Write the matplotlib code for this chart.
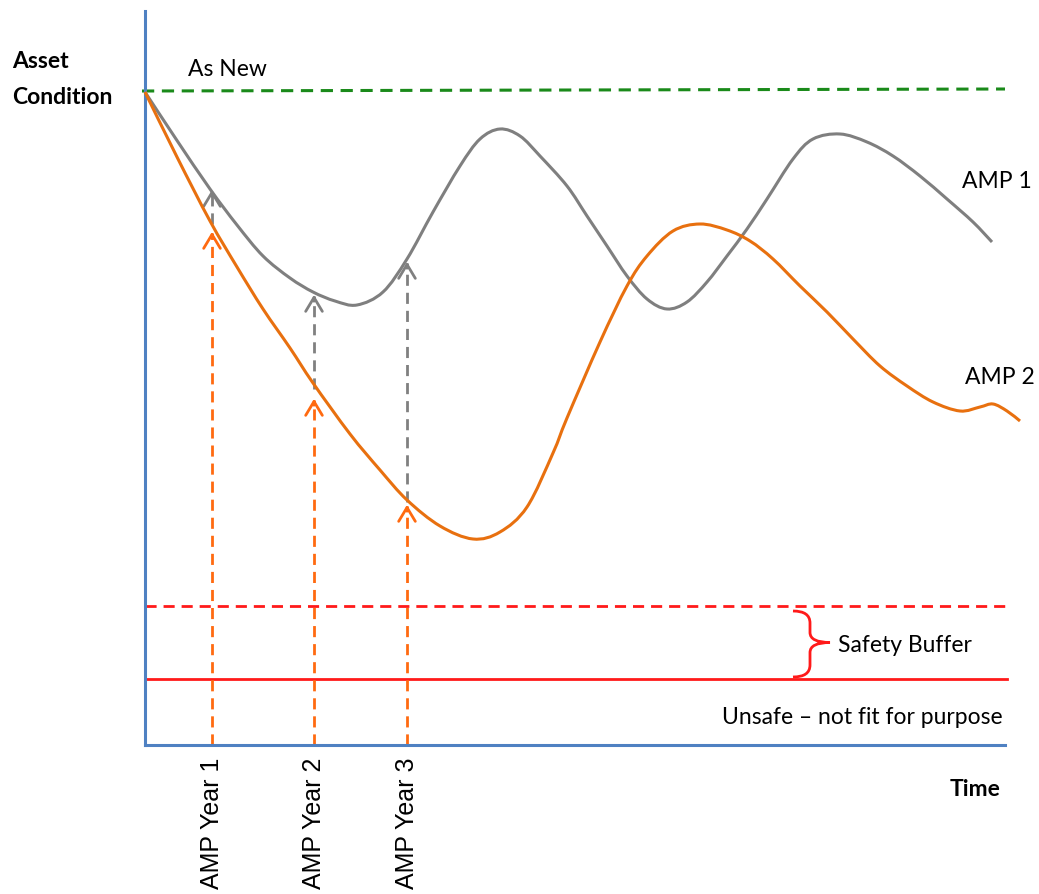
import numpy as np
import matplotlib
matplotlib.use('Agg')
import matplotlib.pyplot as plt
from matplotlib.path import Path
from matplotlib.patches import PathPatch

# data (time, condition) in arbitrary units
amp1_t = [0, 31, 65, 92, 118, 145, 168, 190, 212, 238, 262, 288, 315, 335, 355,
          375, 395, 422, 442, 462, 482, 502, 522, 542, 562, 582, 602, 622, 648, 668,
          695, 722, 748, 775, 802, 828, 847]
amp1_c = [653, 606, 556, 520, 489, 467, 453, 444, 440, 453, 486, 533, 579, 606, 616,
          609, 589, 559, 529, 499, 469, 446, 436, 443, 463, 489, 516, 546, 586, 606,
          611, 603, 589, 569, 546, 523, 503]

amp2_t = [0, 32, 65, 92, 118, 145, 168, 205, 235, 262, 295, 328, 355, 382, 408, 422,
          455, 482, 502, 528, 555, 582, 605, 628, 655, 682, 708, 735, 762, 788,
          815, 835, 848, 862, 875]
amp2_c = [653, 588, 524, 478, 436, 397, 362, 311, 275, 245, 219, 206, 213, 238, 292, 327,
          403, 459, 489, 514, 521, 515, 504, 486, 459, 433, 406, 379, 359, 343,
          334, 338, 341, 334, 324]

as_new = 654
buffer_top = 139
unsafe_level = 66

amp_years = ['AMP Year 1', 'AMP Year 2', 'AMP Year 3']
amp_year_t = [67, 169, 262]
amp2_at_year = [516, 349, 243]
amp1_start = [521, 356, 243]
amp1_at_year = [558, 453, 486]


def smooth_path(xs, ys):
    # draw a smooth curve through the read points (Catmull-Rom as Bezier)
    p = np.column_stack([xs, ys]).astype(float)
    verts = [p[0]]
    codes = [Path.MOVETO]
    n = len(p)
    for i in range(n - 1):
        p0 = p[i - 1] if i > 0 else p[i]
        p3 = p[i + 2] if i + 2 < n else p[i + 1]
        c1 = p[i] + (p[i + 1] - p0) / 6
        c2 = p[i + 1] - (p3 - p[i]) / 6
        verts += [c1, c2, p[i + 1]]
        codes += [Path.CURVE4] * 3
    return Path(verts, codes)


fig = plt.figure(figsize=(10.39, 8.95), dpi=100)
ax = fig.add_axes([145 / 1039, 149 / 895, 880 / 1039, 734 / 895])
ax.set_xlim(0, 880)
ax.set_ylim(0, 734)
ax.set_xticks([])
ax.set_yticks([])
for s in ['top', 'right']:
    ax.spines[s].set_visible(False)
for s in ['left', 'bottom']:
    ax.spines[s].set_color('#4f81c2')
    ax.spines[s].set_linewidth(2.2)
ax.spines['bottom'].set_bounds(0, 860)

calibri = 'Lato'
arial = 'Liberation Sans'
fs = 16.5

# reference lines
ax.plot([-3, 860], [as_new, as_new + 2], color='#1a8a1a', lw=2.2, ls=(0, (4, 2.5)), clip_on=False)
ax.plot([0, 860], [buffer_top, buffer_top], color='#ff1a1a', lw=2.0, ls=(0, (4, 2.5)), clip_on=False)
ax.plot([0, 862], [unsafe_level, unsafe_level], color='#ff1a1a', lw=2.0, clip_on=False)

# AMP year arrows
for t, c2, g0, g1 in zip(amp_year_t, amp2_at_year, amp1_start, amp1_at_year):
    ax.plot([t, t], [0, c2 - 4], color='#ff6a10', lw=2.0, ls=(0, (4, 2.5)), zorder=2)
    ax.annotate('', xy=(t, c2), xytext=(t, c2 - 12),
                arrowprops=dict(arrowstyle='->,head_length=0.5,head_width=0.3',
                                color='#ff6a10', lw=2.0, mutation_scale=20), zorder=2)
    ax.plot([t, t], [g0, g1 - 4], color='#808080', lw=2.0, ls=(0, (4, 2.5)), zorder=2)
    ax.annotate('', xy=(t, g1), xytext=(t, g1 - 12),
                arrowprops=dict(arrowstyle='->,head_length=0.5,head_width=0.3',
                                color='#808080', lw=2.0, mutation_scale=20), zorder=2)

# condition curves
ax.add_patch(PathPatch(smooth_path(amp1_t, amp1_c), fill=False, edgecolor='#7f7f7f',
                       lw=2.2, zorder=3, clip_on=False))
ax.add_patch(PathPatch(smooth_path(amp2_t, amp2_c), fill=False, edgecolor='#e8700f',
                       lw=2.2, zorder=3, clip_on=False))

# brace for the safety buffer
mid = (buffer_top + unsafe_level) / 2
top, bot = buffer_top - 5, unsafe_level + 2
verts = [(648, top), (665, top), (665, top - 12),
         (665, mid + 10), (665, mid), (685, mid),
         (665, mid), (665, mid - 10),
         (665, bot + 12), (665, bot), (648, bot)]
codes = [Path.MOVETO, Path.CURVE3, Path.CURVE3,
         Path.LINETO, Path.CURVE3, Path.CURVE3,
         Path.CURVE3, Path.CURVE3,
         Path.LINETO, Path.CURVE3, Path.CURVE3]
ax.add_patch(PathPatch(Path(verts, codes), fill=False, edgecolor='#ff1a1a', lw=2.0))

# labels
ax.text(-133, 684, 'Asset', fontsize=fs, fontweight='bold', family=calibri,
        ha='left', va='center', clip_on=False)
ax.text(-133, 649, 'Condition', fontsize=fs, fontweight='bold', family=calibri,
        ha='left', va='center', clip_on=False)
ax.text(43, 676, 'As New', fontsize=fs, family=calibri, ha='left', va='center')
ax.text(817, 564, 'AMP 1', fontsize=fs, family=calibri, ha='left', va='center', clip_on=False)
ax.text(820, 368, 'AMP 2', fontsize=fs, family=calibri, ha='left', va='center', clip_on=False)
ax.text(693, 100, 'Safety Buffer', fontsize=fs, family=calibri, ha='left', va='center')
ax.text(577, 28, 'Unsafe \u2013 not fit for purpose', fontsize=fs, family=calibri,
        ha='left', va='center')
ax.text(805, -44, 'Time', fontsize=fs, fontweight='bold', family=calibri,
        ha='left', va='center', clip_on=False)
for t, lab in zip(amp_year_t, amp_years):
    ax.text(t, -12, lab, fontsize=18, family=arial, rotation=90,
            ha='center', va='top', clip_on=False)

fig.savefig('out.png', dpi=100)
